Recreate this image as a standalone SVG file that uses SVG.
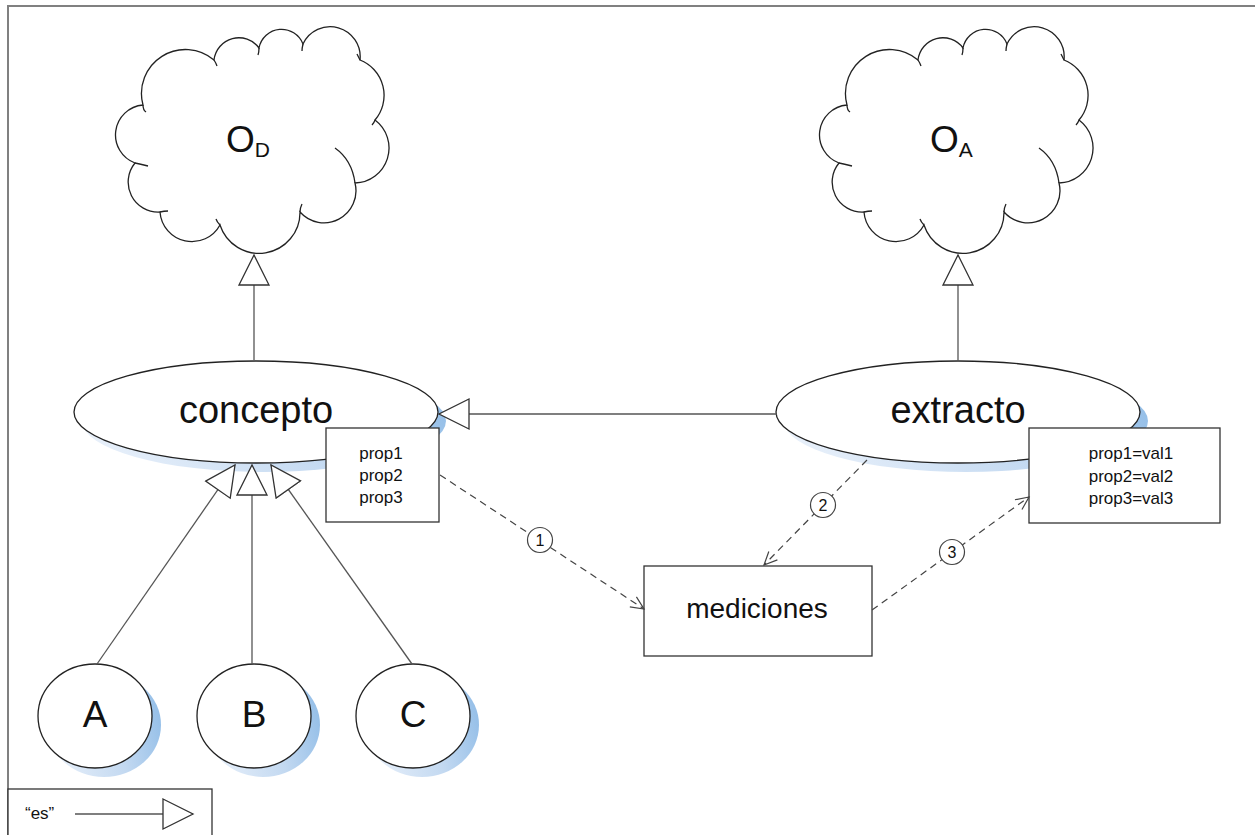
<svg xmlns="http://www.w3.org/2000/svg" width="1255" height="835" viewBox="0 0 1255 835">
<style>
.t{font-family:"Liberation Sans",Arial,sans-serif;fill:#111}
.sh{fill:url(#shg)}
.sp{fill:#fff;stroke:#222;stroke-width:1.3}
.bx{fill:#fff;stroke:#333;stroke-width:1.3}
.cl{fill:#fff;stroke:#222;stroke-width:1.3}
.tail{fill:none;stroke:#222;stroke-width:1.3}
.gen{fill:none;stroke:#555;stroke-width:1.3;marker-end:url(#tri)}
.dep{fill:none;stroke:#444;stroke-width:1.2;stroke-dasharray:7 5;marker-end:url(#open)}
.num{fill:#fff;stroke:#444;stroke-width:1.2}
</style>
<defs>
<linearGradient id="shg" x1="0" y1="0.6" x2="1" y2="0.4">
<stop offset="0" stop-color="#e8f0fa"/>
<stop offset="0.6" stop-color="#c3d9f1"/>
<stop offset="1" stop-color="#95bfe8"/>
</linearGradient>
<marker id="tri" markerUnits="userSpaceOnUse" markerWidth="34" markerHeight="34" refX="31" refY="16" orient="auto">
<path d="M1,1 L31,16 L1,31 Z" fill="#fff" stroke="#333" stroke-width="1.3"/>
</marker>
<marker id="open" markerUnits="userSpaceOnUse" markerWidth="16" markerHeight="16" refX="14" refY="8" orient="auto">
<path d="M1,2 L14,8 L1,14" fill="none" stroke="#444" stroke-width="1.2"/>
</marker>
<path id="cloud" d="M143,105 A44,44 0 0,1 214,60 A25,25 0 0,1 259,48 A23,23 0 0,1 303,44 A30,30 0 0,1 360,60 A38,38 0 0,1 375,120 A35,35 0 0,1 355,183 A32,32 0 0,1 300,212 A41,41 0 0,1 220,225 A32,32 0 0,1 160,212 A30,30 0 0,1 135,163 A30,30 0 0,1 143,105 Z"/>
<path id="tails" d="M214,60 Q216,63 217,66 M259,48 Q259,52 258,55 M303,44 Q302,48 302,51 M360,60 Q358,56 357,54 M375,120 Q374,123 372,125 M355,183 Q352,160 335,148 M300,212 Q300,208 302,204 M220,225 Q217,222 216,219 M160,212 Q164,211 168,211 M135,163 Q140,164 148,166 M143,105 Q143,110 146,112"/>
</defs>

<rect width="1255" height="835" fill="#fff"/>
<path d="M8,835 L8,6 L1255,6" fill="none" stroke="#808080" stroke-width="2"/>

<g id="node-OD">
<use href="#cloud" class="cl"/>
<use href="#tails" class="tail"/>
<text class="t" x="226" y="152" font-size="37">O<tspan font-size="21" dy="5">D</tspan></text>
</g>

<g id="node-OA">
<use href="#cloud" class="cl" transform="translate(704,0)"/>
<use href="#tails" class="tail" transform="translate(704,0)"/>
<text class="t" x="930" y="152" font-size="37">O<tspan font-size="21" dy="5">A</tspan></text>
</g>

<g id="node-concepto">
<ellipse class="sh" cx="264" cy="421" rx="182" ry="51"/>
<ellipse class="sp" cx="256" cy="412" rx="182" ry="51"/>
<text class="t" x="256" y="423" font-size="38" text-anchor="middle">concepto</text>
</g>

<g id="node-concepto-props">
<rect class="bx" x="326" y="428" width="113" height="94"/>
<text class="t" font-size="17" text-anchor="middle"><tspan x="381" y="459">prop1</tspan><tspan x="381" y="481">prop2</tspan><tspan x="381" y="503">prop3</tspan></text>
</g>

<g id="node-extracto">
<ellipse class="sh" cx="966" cy="421" rx="182" ry="51"/>
<ellipse class="sp" cx="958" cy="412" rx="182" ry="51"/>
<text class="t" x="958" y="423" font-size="38" text-anchor="middle">extracto</text>
</g>

<g id="node-extracto-props">
<rect class="bx" x="1029" y="428" width="191" height="95"/>
<text class="t" font-size="17" text-anchor="middle"><tspan x="1131" y="459">prop1=val1</tspan><tspan x="1131" y="482">prop2=val2</tspan><tspan x="1131" y="504">prop3=val3</tspan></text>
</g>

<g id="node-mediciones">
<rect class="bx" x="644" y="566" width="228" height="90"/>
<text class="t" x="757" y="618" font-size="28" text-anchor="middle">mediciones</text>
</g>

<g id="node-A">
<ellipse class="sh" cx="104" cy="725" rx="57" ry="52"/>
<ellipse class="sp" cx="95" cy="716" rx="57" ry="52"/>
<text class="t" x="95" y="727" font-size="37" text-anchor="middle">A</text>
</g>

<g id="node-B">
<ellipse class="sh" cx="263" cy="725" rx="57" ry="52"/>
<ellipse class="sp" cx="254" cy="716" rx="57" ry="52"/>
<text class="t" x="254" y="727" font-size="37" text-anchor="middle">B</text>
</g>

<g id="node-C">
<ellipse class="sh" cx="422" cy="725" rx="57" ry="52"/>
<ellipse class="sp" cx="413" cy="716" rx="57" ry="52"/>
<text class="t" x="413" y="727" font-size="37" text-anchor="middle">C</text>
</g>

<g id="legend">
<rect class="bx" x="8" y="789" width="204" height="60"/>
<text class="t" x="25" y="819" font-size="17">“es”</text>
<path class="gen" d="M75,814 L193,814"/>
</g>

<g id="connectors">
<path class="gen" d="M254,360 L254,255"/>
<path class="gen" d="M958,361 L958,255"/>
<path class="gen" d="M777,414 L439,414"/>
<path class="gen" d="M97,664 L235,465"/>
<path class="gen" d="M252,664 L252,465"/>
<path class="gen" d="M412,664 L271,465"/>
<path class="dep" d="M440,475 L644,609"/>
<path class="dep" d="M867,460 L764,565"/>
<path class="dep" d="M872,610 L1029,497"/>
<g id="labels">
<circle class="num" cx="540" cy="540" r="12.5"/>
<text class="t" x="540" y="546" font-size="16" text-anchor="middle">1</text>
<circle class="num" cx="823" cy="505" r="12.5"/>
<text class="t" x="823" y="511" font-size="16" text-anchor="middle">2</text>
<circle class="num" cx="952" cy="552" r="12.5"/>
<text class="t" x="952" y="558" font-size="16" text-anchor="middle">3</text>
</g>
</g>
</svg>
